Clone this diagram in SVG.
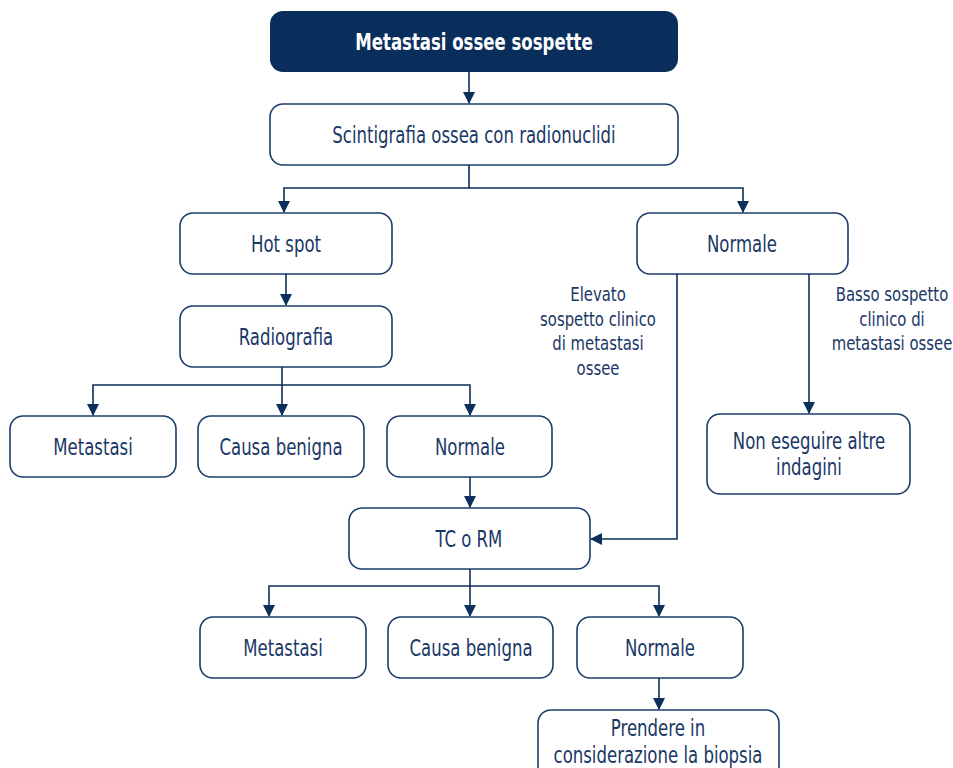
<svg xmlns="http://www.w3.org/2000/svg" width="953" height="768" viewBox="0 0 953 768">
<defs>
<marker id="ah" markerWidth="12" markerHeight="14" refX="11" refY="6" orient="auto" markerUnits="userSpaceOnUse">
<path d="M0,0 L12,6 L0,12 Z" fill="#0d2f5c"/>
</marker>
<style>
.b{fill:#fff;stroke:#1b3c6b;stroke-width:1.6}
.t,.l{font-family:"Liberation Sans Narrow","DejaVu Sans Condensed","Roboto Condensed",sans-serif;font-stretch:condensed;fill:#1a3866;text-anchor:middle;transform-box:fill-box;transform-origin:center}
.t{font-size:23px;transform:scaleX(0.8)}
.l{font-size:19px;transform:scaleX(0.87)}
.c{fill:none;stroke:#0d2f5c;stroke-width:1.6}
</style>
</defs>
<rect width="953" height="768" fill="#fff"/>
<g id="n-top"><rect x="270" y="11" width="408" height="61" rx="13" fill="#0a2e5c"/><text x="474" y="50" class="t" style="fill:#fff;font-weight:bold">Metastasi ossee sospette</text></g>
<g id="n-scint"><rect class="b" x="270" y="104" width="408" height="61" rx="13"/><text x="474" y="143" class="t">Scintigrafia ossea con radionuclidi</text></g>
<g id="n-hot"><rect class="b" x="180" y="213" width="212" height="61" rx="13"/><text x="286" y="252" class="t">Hot spot</text></g>
<g id="n-norm1"><rect class="b" x="637" y="213" width="211" height="61" rx="13"/><text x="742" y="252" class="t">Normale</text></g>
<g id="n-radio"><rect class="b" x="180" y="306" width="212" height="61" rx="13"/><text x="286" y="345" class="t">Radiografia</text></g>
<g id="n-meta1"><rect class="b" x="10" y="416" width="166" height="61" rx="13"/><text x="93" y="455" class="t">Metastasi</text></g>
<g id="n-ben1"><rect class="b" x="198" y="416" width="166" height="61" rx="13"/><text x="281" y="455" class="t">Causa benigna</text></g>
<g id="n-norm2"><rect class="b" x="387" y="416" width="165" height="61" rx="13"/><text x="470" y="455" class="t">Normale</text></g>
<g id="n-non"><rect class="b" x="707" y="414" width="203" height="80" rx="13"/><text x="809" y="449" class="t">Non eseguire altre</text><text x="809" y="475" class="t">indagini</text></g>
<g id="n-tc"><rect class="b" x="349" y="508" width="241" height="61" rx="13"/><text x="469" y="547" class="t">TC o RM</text></g>
<g id="n-meta2"><rect class="b" x="200" y="617" width="166" height="61" rx="13"/><text x="283" y="656" class="t">Metastasi</text></g>
<g id="n-ben2"><rect class="b" x="388" y="617" width="165" height="61" rx="13"/><text x="471" y="656" class="t">Causa benigna</text></g>
<g id="n-norm3"><rect class="b" x="577" y="617" width="166" height="61" rx="13"/><text x="660" y="656" class="t">Normale</text></g>
<g id="n-biopsia"><rect class="b" x="538" y="710" width="241" height="70" rx="13"/><text x="658" y="736" class="t">Prendere in</text><text x="658" y="763" class="t">considerazione la biopsia</text></g>
<g id="connectors">
<path class="c" d="M469,72 V103" marker-end="url(#ah)"/>
<path class="c" d="M469,165 V188 H284 V212" marker-end="url(#ah)"/>
<path class="c" d="M469,188 H743 V212" marker-end="url(#ah)"/>
<path class="c" d="M286,274 V305" marker-end="url(#ah)"/>
<path class="c" d="M282,367 V415" marker-end="url(#ah)"/>
<path class="c" d="M282,385 H93 V415" marker-end="url(#ah)"/>
<path class="c" d="M282,385 H470 V415" marker-end="url(#ah)"/>
<path class="c" d="M470,477 V507" marker-end="url(#ah)"/>
<path class="c" d="M677,274 V539 H591" marker-end="url(#ah)"/>
<path class="c" d="M809,274 V413" marker-end="url(#ah)"/>
<path class="c" d="M470,569 V616" marker-end="url(#ah)"/>
<path class="c" d="M470,586 H269 V616" marker-end="url(#ah)"/>
<path class="c" d="M470,586 H659 V616" marker-end="url(#ah)"/>
<path class="c" d="M659,678 V709" marker-end="url(#ah)"/>
</g>
<g id="labels">
<text class="l" x="598" y="301">Elevato</text>
<text class="l" x="598" y="326">sospetto clinico</text>
<text class="l" x="598" y="350">di metastasi</text>
<text class="l" x="598" y="375">ossee</text>
<text class="l" x="892" y="301">Basso sospetto</text>
<text class="l" x="892" y="326">clinico di</text>
<text class="l" x="892" y="350">metastasi ossee</text>
</g>
</svg>
